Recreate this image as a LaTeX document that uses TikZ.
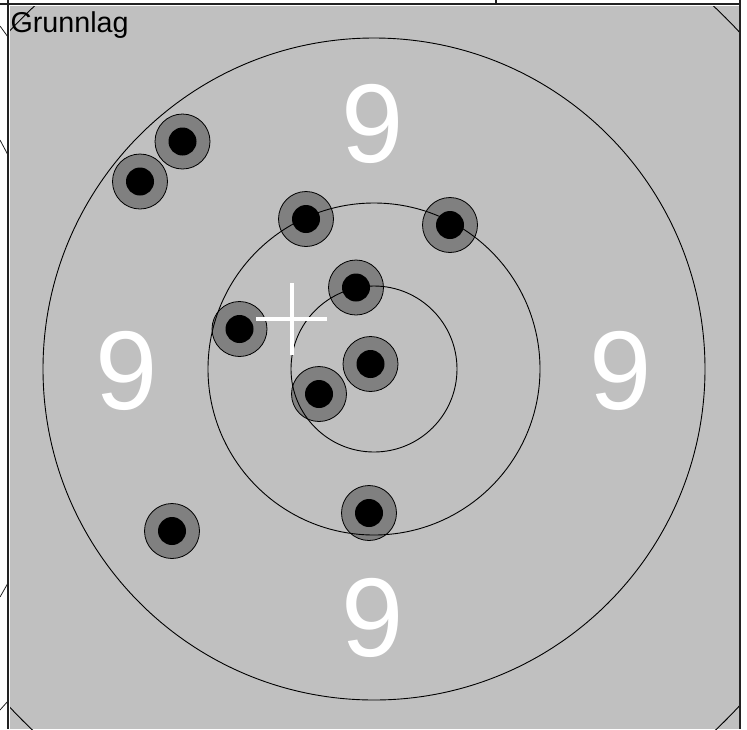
\documentclass[tikz,border=0pt]{standalone}
\usepackage{fontspec}
\setmainfont{Liberation Sans}
\usepackage{tikz}
\usetikzlibrary{positioning}
\definecolor{targetgray}{HTML}{C0C0C0}
\definecolor{holegray}{HTML}{808080}
\definecolor{framegray}{HTML}{222222}

\begin{document}
\begin{tikzpicture}[x=1pt, y=-1pt,
    every node/.style={inner sep=0pt, outer sep=0pt},
    hole/.style={circle, draw, line width=0.8pt, fill=holegray, minimum size=55pt,
      path picture={\fill[black] (path picture bounding box.center) circle (14pt);}},
    ringnum/.style={text=white, font=\fontsize{112}{112}\selectfont, anchor=base},
    ringline/.style={line width=0.9pt}
  ]
  \useasboundingbox (0,0) rectangle (747,729);
  % target face
  \fill[targetgray] (10,6) rectangle (739,729);
  \coordinate (c) at (374,369);
  % hits
  \node[hole] (s1)  at (182.5,141.5) {};
  \node[hole] (s2)  at (140,181.5)   {};
  \node[hole] (s3)  at (306,219)     {};
  \node[hole] (s4)  at (450,225)     {};
  \node[hole] (s5)  at (356,287.5)   {};
  \node[hole] (s6)  at (239.5,329)   {};
  \node[hole] (s7)  at (370.5,364)   {};
  \node[hole] (s8)  at (319,394)     {};
  \node[hole] (s9)  at (172,531)     {};
  \node[hole] (s10) at (369,513)     {};
  % rings
  \begin{scope}
    \clip (10,6) rectangle (739,729);
    \draw[ringline] (c) circle (497pt);
    \draw[ringline] (c) circle (331pt);
    \draw[ringline] (c) circle (166pt);
    \draw[ringline] (c) circle (83pt);
  \end{scope}
  % ring numbers
  \node[ringnum] (n9top)    at (373,162) {9};
  \node[ringnum] (n9bottom) at (373,656) {9};
  \node[ringnum] (n9left)   at (127,409) {9};
  \node[ringnum] (n9right)  at (621,409) {9};
  % aim mark
  \coordinate (aim) at (291.5,319);
  \draw[white, line width=4pt] (aim) ++(0,-36) -- ++(0,72);
  \draw[white, line width=4pt] (aim) ++(-35.5,0) -- ++(71,0);
  % frame
  \draw[framegray, line width=1.5pt] (0,4) -- (741,4);
  \draw[framegray, line width=1.5pt] (8,0) -- (8,729);
  \draw[framegray, line width=2pt] (740,0) -- (740,729);
  \draw[framegray, line width=1.2pt] (496,0) -- (496,4);
  \draw[framegray, line width=0.8pt] (0,26) -- (8,37);
  \draw[framegray, line width=0.8pt] (0,140) -- (8,155);
  \draw[framegray, line width=0.8pt] (0,597) -- (8,583);
  \draw[framegray, line width=0.8pt] (0,710) -- (8,701);
  \node[anchor=base west, font=\fontsize{28.7}{30}\selectfont] (title) at (10.5,32) {Grunnlag};
\end{tikzpicture}
\end{document}
